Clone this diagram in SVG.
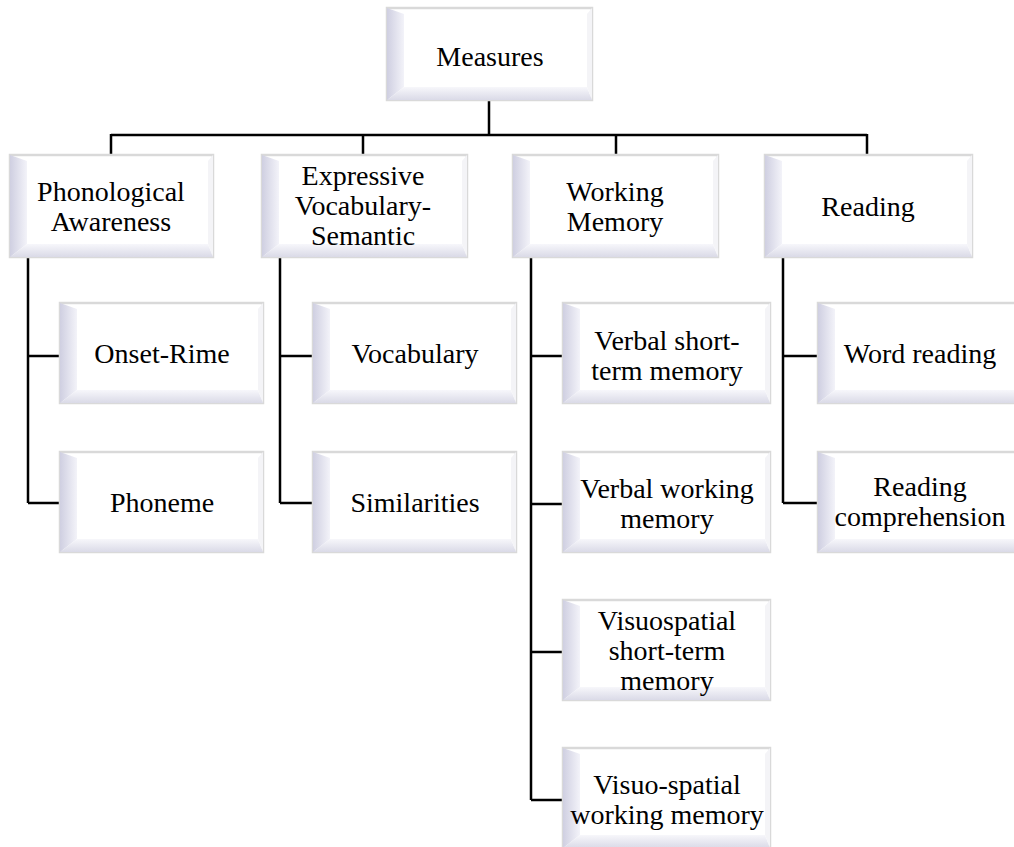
<svg xmlns="http://www.w3.org/2000/svg" width="1014" height="847" viewBox="0 0 1014 847">
<defs>
<linearGradient id="gl" x1="0" y1="0" x2="1" y2="0"><stop offset="0" stop-color="#cfcfe1"/><stop offset="1" stop-color="#f3f3f9"/></linearGradient>
<linearGradient id="gb" x1="0" y1="0" x2="0" y2="1"><stop offset="0" stop-color="#f7f7fb"/><stop offset="1" stop-color="#dadae7"/></linearGradient>
<style>
.o{fill:#fff;stroke:#d9d9d9;stroke-width:2.5}
.l{fill:url(#gl)}
.b{fill:url(#gb)}
.r{fill:#f4f4f7}
.t{font-family:"Liberation Serif","Times New Roman",serif;font-size:28px;fill:#000;text-anchor:middle}
.c{fill:none;stroke:#000;stroke-width:2.5}
</style>
</defs>
<g id="connectors">
<path class="c" d="M489 100V135M111 135H867M111 134V155M363 134V155M616 134V155M867 134V155"/>
<path class="c" d="M28 257V503M28 356H60M28 503H60"/>
<path class="c" d="M280 257V503M280 356H313M280 503H313"/>
<path class="c" d="M531 257V800M531 356H563M531 504H563M531 652H563M531 800H563"/>
<path class="c" d="M783 257V503M783 356H818M783 503H818"/>
</g>
<g id="measures">
<rect class="o" x="387" y="8" width="205" height="92"/>
<polygon class="l" points="387,8 404,14 404,87 387,100"/>
<polygon class="b" points="387,100 404,87 587,87 592,100"/>
<polygon class="r" points="592,8 587,14 587,87 592,100"/>
<text class="t" x="490" y="66">Measures</text>
</g>
<g id="phonological">
<rect class="o" x="10" y="155" width="203" height="102"/>
<polygon class="l" points="10,155 27,161 27,244 10,257"/>
<polygon class="b" points="10,257 27,244 208,244 213,257"/>
<polygon class="r" points="213,155 208,161 208,244 213,257"/>
<text class="t" x="111" y="201">Phonological</text>
<text class="t" x="111" y="231">Awareness</text>
</g>
<g id="expressive">
<rect class="o" x="262" y="155" width="205" height="102"/>
<polygon class="l" points="262,155 279,161 279,244 262,257"/>
<polygon class="b" points="262,257 279,244 462,244 467,257"/>
<polygon class="r" points="467,155 462,161 462,244 467,257"/>
<text class="t" x="363" y="185">Expressive</text>
<text class="t" x="363" y="215">Vocabulary-</text>
<text class="t" x="363" y="245">Semantic</text>
</g>
<g id="working">
<rect class="o" x="513" y="155" width="205" height="102"/>
<polygon class="l" points="513,155 530,161 530,244 513,257"/>
<polygon class="b" points="513,257 530,244 713,244 718,257"/>
<polygon class="r" points="718,155 713,161 713,244 718,257"/>
<text class="t" x="615" y="201">Working</text>
<text class="t" x="615" y="231">Memory</text>
</g>
<g id="reading">
<rect class="o" x="765" y="155" width="207" height="102"/>
<polygon class="l" points="765,155 782,161 782,244 765,257"/>
<polygon class="b" points="765,257 782,244 967,244 972,257"/>
<polygon class="r" points="972,155 967,161 967,244 972,257"/>
<text class="t" x="868" y="216">Reading</text>
</g>
<g id="onset">
<rect class="o" x="60" y="303" width="203" height="100"/>
<polygon class="l" points="60,303 77,309 77,390 60,403"/>
<polygon class="b" points="60,403 77,390 258,390 263,403"/>
<polygon class="r" points="263,303 258,309 258,390 263,403"/>
<text class="t" x="162" y="363">Onset-Rime</text>
</g>
<g id="phoneme">
<rect class="o" x="60" y="452" width="203" height="100"/>
<polygon class="l" points="60,452 77,458 77,539 60,552"/>
<polygon class="b" points="60,552 77,539 258,539 263,552"/>
<polygon class="r" points="263,452 258,458 258,539 263,552"/>
<text class="t" x="162" y="512">Phoneme</text>
</g>
<g id="vocabulary">
<rect class="o" x="313" y="303" width="203" height="100"/>
<polygon class="l" points="313,303 330,309 330,390 313,403"/>
<polygon class="b" points="313,403 330,390 511,390 516,403"/>
<polygon class="r" points="516,303 511,309 511,390 516,403"/>
<text class="t" x="415" y="363">Vocabulary</text>
</g>
<g id="similarities">
<rect class="o" x="313" y="452" width="203" height="100"/>
<polygon class="l" points="313,452 330,458 330,539 313,552"/>
<polygon class="b" points="313,552 330,539 511,539 516,552"/>
<polygon class="r" points="516,452 511,458 511,539 516,552"/>
<text class="t" x="415" y="512">Similarities</text>
</g>
<g id="verbal-stm">
<rect class="o" x="563" y="303" width="207" height="100"/>
<polygon class="l" points="563,303 580,309 580,390 563,403"/>
<polygon class="b" points="563,403 580,390 765,390 770,403"/>
<polygon class="r" points="770,303 765,309 765,390 770,403"/>
<text class="t" x="667" y="350">Verbal short-</text>
<text class="t" x="667" y="380">term memory</text>
</g>
<g id="verbal-wm">
<rect class="o" x="563" y="452" width="207" height="100"/>
<polygon class="l" points="563,452 580,458 580,539 563,552"/>
<polygon class="b" points="563,552 580,539 765,539 770,552"/>
<polygon class="r" points="770,452 765,458 765,539 770,552"/>
<text class="t" x="667" y="498">Verbal working</text>
<text class="t" x="667" y="528">memory</text>
</g>
<g id="visuospatial-stm">
<rect class="o" x="563" y="600" width="207" height="100"/>
<polygon class="l" points="563,600 580,606 580,687 563,700"/>
<polygon class="b" points="563,700 580,687 765,687 770,700"/>
<polygon class="r" points="770,600 765,606 765,687 770,700"/>
<text class="t" x="667" y="630">Visuospatial</text>
<text class="t" x="667" y="660">short-term</text>
<text class="t" x="667" y="690">memory</text>
</g>
<g id="visuospatial-wm">
<rect class="o" x="563" y="748" width="207" height="100"/>
<polygon class="l" points="563,748 580,754 580,835 563,848"/>
<polygon class="b" points="563,848 580,835 765,835 770,848"/>
<polygon class="r" points="770,748 765,754 765,835 770,848"/>
<text class="t" x="667" y="794">Visuo-spatial</text>
<text class="t" x="667" y="824">working memory</text>
</g>
<g id="word-reading">
<rect class="o" x="818" y="303" width="207" height="100"/>
<polygon class="l" points="818,303 835,309 835,390 818,403"/>
<polygon class="b" points="818,403 835,390 1020,390 1025,403"/>
<text class="t" x="920" y="363">Word reading</text>
</g>
<g id="reading-comp">
<rect class="o" x="818" y="452" width="207" height="100"/>
<polygon class="l" points="818,452 835,458 835,539 818,552"/>
<polygon class="b" points="818,552 835,539 1020,539 1025,552"/>
<text class="t" x="920" y="496">Reading</text>
<text class="t" x="920" y="526">comprehension</text>
</g>
</svg>
